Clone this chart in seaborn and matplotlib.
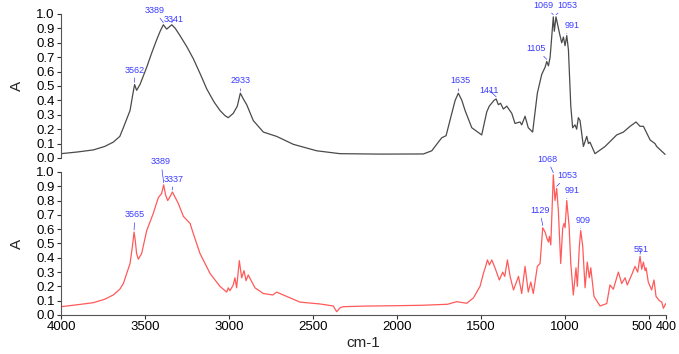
# IR spectra, two stacked panels with peak labels

import numpy as np
import pandas as pd
import seaborn as sns
import matplotlib.pyplot as plt
import matplotlib.transforms as mtrans

# upper spectrum (grey)
top_wn = [4000, 3900, 3808, 3740, 3689, 3650, 3629, 3589, 3570, 3562, 3550, 3530, 3490, 3460,
          3431, 3410, 3391, 3371, 3341, 3320, 3292, 3250, 3213, 3170, 3133, 3090, 3054, 3025,
          3005, 2975, 2951, 2933, 2915, 2895, 2856, 2796, 2717, 2618, 2479, 2340, 2100, 1844,
          1794, 1755, 1735, 1709, 1675, 1655, 1636, 1615, 1596, 1556, 1497, 1467, 1452, 1424,
          1411, 1398, 1385, 1368, 1348, 1318, 1299, 1269, 1259, 1239, 1220, 1194, 1166, 1140,
          1120, 1110, 1100, 1090, 1071, 1065, 1055, 1035, 1021, 1011, 1001, 991, 981, 967, 956,
          942, 932, 922, 912, 892, 872, 862, 853, 823, 763, 694, 654, 614, 579, 555, 535, 495,
          466, 456, 406]
top_a = [0.03, 0.042, 0.056, 0.08, 0.11, 0.15, 0.21, 0.33, 0.46, 0.51, 0.47, 0.51, 0.63, 0.73,
         0.82, 0.88, 0.925, 0.895, 0.925, 0.90, 0.85, 0.77, 0.69, 0.58, 0.48, 0.39, 0.33, 0.295,
         0.28, 0.31, 0.36, 0.45, 0.41, 0.37, 0.26, 0.18, 0.15, 0.095, 0.05, 0.03, 0.027, 0.028,
         0.05, 0.11, 0.14, 0.155, 0.31, 0.40, 0.45, 0.40, 0.33, 0.21, 0.16, 0.32, 0.36, 0.40,
         0.41, 0.37, 0.38, 0.34, 0.36, 0.31, 0.24, 0.25, 0.23, 0.29, 0.21, 0.18, 0.45, 0.58,
         0.63, 0.67, 0.64, 0.70, 0.98, 0.88, 0.98, 0.87, 0.80, 0.84, 0.78, 0.85, 0.75, 0.36, 0.21,
         0.23, 0.20, 0.28, 0.26, 0.08, 0.15, 0.10, 0.11, 0.03, 0.08, 0.16, 0.18, 0.22, 0.25, 0.22,
         0.22, 0.125, 0.10, 0.08, 0.025]

# lower spectrum (red)
bot_wn = [4000, 3900, 3808, 3740, 3689, 3650, 3629, 3589, 3575, 3565, 3558, 3550, 3540, 3520,
          3490, 3451, 3421, 3401, 3389, 3378, 3365, 3350, 3337, 3302, 3272, 3232, 3213, 3173,
          3113, 3054, 3014, 3005, 2995, 2975, 2965, 2955, 2939, 2925, 2911, 2899, 2886, 2846,
          2796, 2740, 2717, 2657, 2578, 2459, 2380, 2360, 2340, 2322, 2200, 2000, 1850, 1700,
          1646, 1586, 1546, 1507, 1487, 1471, 1463, 1451, 1437, 1418, 1392, 1372, 1360, 1344,
          1328, 1308, 1278, 1259, 1239, 1220, 1205, 1190, 1166, 1150, 1134, 1120, 1110, 1100,
          1094, 1086, 1071, 1061, 1051, 1041, 1027, 1015, 1007, 1001, 991, 977, 967, 952, 936,
          928, 916, 908, 896, 882, 869, 857, 848, 829, 793, 753, 734, 714, 684, 664, 644, 631,
          605, 585, 569, 555, 545, 535, 525, 519, 506, 486, 472, 460, 440, 426, 416, 402]
bot_a = [0.058, 0.072, 0.086, 0.11, 0.14, 0.18, 0.22, 0.36, 0.48, 0.58, 0.52, 0.43, 0.39, 0.43,
         0.59, 0.71, 0.82, 0.85, 0.91, 0.84, 0.80, 0.83, 0.86, 0.78, 0.69, 0.64, 0.57, 0.43,
         0.29, 0.20, 0.16, 0.19, 0.17, 0.21, 0.26, 0.19, 0.38, 0.26, 0.31, 0.24, 0.28, 0.19,
         0.15, 0.14, 0.16, 0.13, 0.09, 0.077, 0.063, 0.023, 0.05, 0.058, 0.062, 0.065, 0.068, 0.075,
         0.093, 0.082, 0.12, 0.20, 0.29, 0.35, 0.385, 0.35, 0.385, 0.33, 0.245, 0.30, 0.27, 0.385,
         0.27, 0.175, 0.27, 0.15, 0.34, 0.16, 0.23, 0.15, 0.34, 0.36, 0.61, 0.58, 0.54, 0.51,
         0.55, 0.49, 0.98, 0.80, 0.885, 0.73, 0.36, 0.61, 0.64, 0.61, 0.80, 0.62, 0.36, 0.14, 0.33,
         0.20, 0.48, 0.59, 0.48, 0.19, 0.37, 0.26, 0.33, 0.13, 0.063, 0.08, 0.21, 0.18, 0.30, 0.22,
         0.26, 0.21, 0.28, 0.34, 0.30, 0.41, 0.32, 0.37, 0.31, 0.33, 0.23, 0.175, 0.245, 0.13,
         0.10, 0.09, 0.047, 0.08]

# peak labels
top_peaks = [3562, 3389, 3341, 2933, 1635, 1411, 1105, 1069, 1053, 991]
top_peak_at = [3562, 3391, 3341, 2933, 1636, 1411, 1110, 1071, 1055, 991]
bot_peaks = [3565, 3389, 3337, 1129, 1068, 1053, 991, 909, 551]
bot_peak_at = [3565, 3389, 3337, 1134, 1071, 1051, 991, 908, 555]

# label text positions (layout)
top_txt = [(3560, 0.61), (3445, 1.025), (3330, 0.96), (2929, 0.535), (1626, 0.535),
           (1452, 0.47), (1174, 0.76), (1130, 1.06), (985, 1.06), (961, 0.92)]
bot_txt = [(3560, 0.70), (3405, 1.07), (3330, 0.95), (1150, 0.73), (1107, 1.09),
           (987, 0.975), (960, 0.87), (892, 0.66), (549, 0.46)]

x_ticks = [4000, 3500, 3000, 2500, 2000, 1500, 1000, 500, 400]

sns.set_style('ticks')
plt.rcParams['font.family'] = ['Liberation Sans', 'DejaVu Sans']

fig = plt.figure(figsize=(6.79, 3.54), dpi=100)
ax1 = fig.add_axes([0.0898, 0.5537, 0.8912, 0.4068])
ax2 = fig.add_axes([0.0898, 0.1102, 0.8912, 0.4040])

blue = '#3b3bff'


def draw(ax, wn, a, color, peaks, peak_at, txt):
  df = pd.DataFrame({'wn': wn, 'A': a})
  sns.lineplot(data=df, x='wn', y='A', ax=ax, color=color, lw=0.9, estimator=None)
  for lab, p, (tx, ty) in zip(peaks, peak_at, txt):
    py = np.interp(p, wn[::-1], a[::-1]) + 0.015
    ax.annotate(str(lab), xy=(p, py), xytext=(tx, ty), ha='center', va='center',
                fontsize=6.5, color=blue, annotation_clip=False,
                arrowprops=dict(arrowstyle='-', color=blue, lw=0.5, shrinkA=0, shrinkB=0))
  ax.set_xlim(4000, 400)
  ax.set_ylim(0, 1.0)
  ax.set_yticks(np.arange(0, 1.01, 0.1))
  ax.set_yticklabels([f'{v:.1f}' for v in np.arange(0, 1.01, 0.1)])
  ax.tick_params(axis='both', labelsize=9.5, length=3, width=0.8, pad=1.5,
                 colors='#333333', labelcolor='black')
  for s in ['top', 'right']:
    ax.spines[s].set_visible(False)
  for s in ['left', 'bottom']:
    ax.spines[s].set_color('#555555')
    ax.spines[s].set_linewidth(0.8)
  ax.set_ylabel('A', fontsize=11, labelpad=9)
  ax.patch.set_alpha(0)


draw(ax1, top_wn, top_a, '#4a4a4a', top_peaks, top_peak_at, top_txt)
draw(ax2, bot_wn, bot_a, '#ff5a5a', bot_peaks, bot_peak_at, bot_txt)

ax1.spines['bottom'].set_visible(False)
ax1.set_xticks([])
ax1.set_xlabel('')
ax2.set_xticks(x_ticks)
ax2.set_xticklabels([str(t) for t in x_ticks])
ax2.set_xlabel('cm-1', fontsize=11, labelpad=2)

# squeeze the last two labels apart so "500400" reads like the reference
labs = ax2.get_xticklabels()
for lab, dx in [(labs[-2], -7), (labs[-1], 0)]:
  lab.set_fontsize(9)
  lab.set_transform(lab.get_transform() + mtrans.ScaledTranslation(dx / 100, 0, fig.dpi_scale_trans))

fig.savefig('out.png', dpi=100)
